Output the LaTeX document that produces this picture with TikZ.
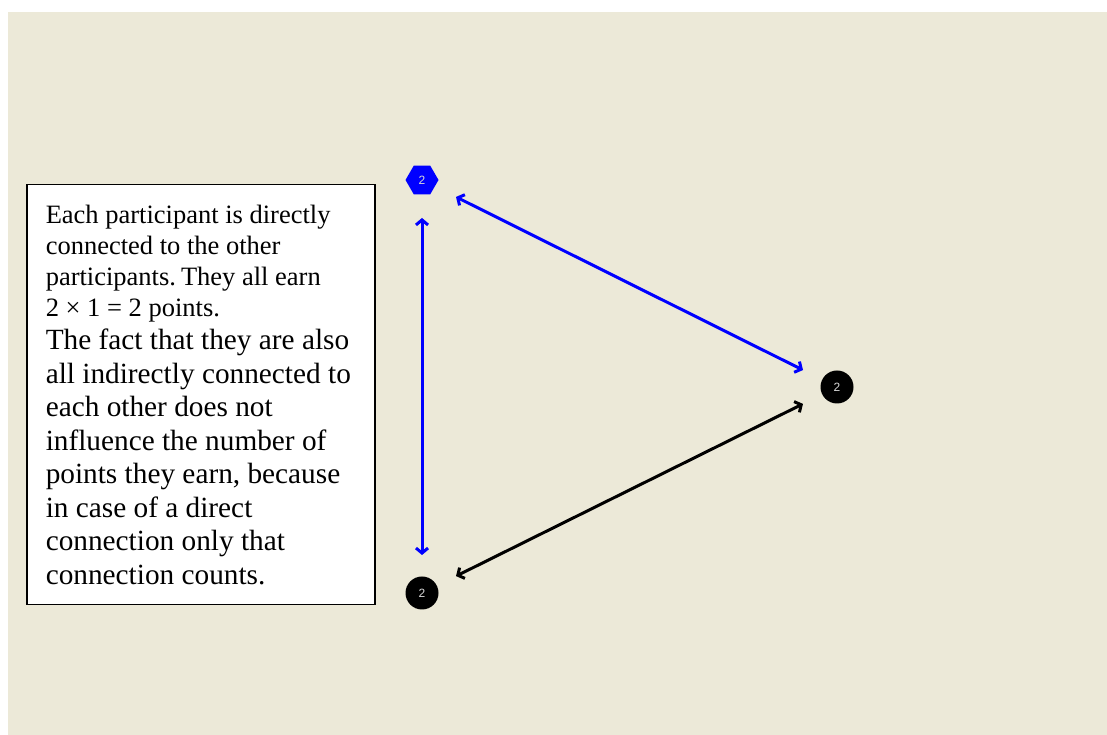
\documentclass[tikz,border=0pt]{standalone}
\usepackage{fontspec}
\setmainfont{Liberation Serif}
\setsansfont{Liberation Sans}
\usetikzlibrary{positioning,shapes.geometric,arrows.meta}
\definecolor{panel}{HTML}{ECE9D8}
\newcommand\notesize[2]{\fontsize{#1}{#2}\selectfont\spaceskip=.25em plus .1em\relax}

\begin{document}
\begin{tikzpicture}[x=1pt,y=1pt,node distance=207pt and 415pt,on grid,
   player/.style={circle,fill=black,text=white!85!black,minimum size=33pt,inner sep=0pt,
      font=\sffamily\fontsize{12}{12}\selectfont},
   self/.style={player,regular polygon,regular polygon sides=6,fill=blue,minimum size=33pt},
   link/.style={line width=3pt,{Straight Barb[length=5pt,width=12pt]}-{Straight Barb[length=5pt,width=12pt]},
      shorten >=38pt,shorten <=38pt}]
   \useasboundingbox[fill=white] (0,0) rectangle (1107,735);
   \fill[panel] (8,0) rectangle (1107,723);

   \node[self] (p_a) at (422,555) {2};
   \node[player] (p_b) [below right=of p_a] {2};
   \node[player] (p_c) [below=413pt of p_a] {2};

   \path[link]
   (p_a.center) edge[blue] (p_c.center)
                edge[blue] (p_b.center)
   (p_b.center) edge (p_c.center);

   % explanation box
   \node[draw,line width=1.5pt,fill=white,anchor=north west,text width=310pt,
      inner xsep=19pt,minimum height=420pt,align=left] (note) at (26,551)
   {{\notesize{26.5}{31}Each participant is directly\\
     connected to the other\\
     participants. They all earn\\
     2 × 1 = 2 points.\par}
    {\notesize{29.3}{33.5}The fact that they are also\\
     all indirectly connected to\\
     each other does not\\
     influence the number of\\
     points they earn, because\\
     in case of a direct\\
     connection only that\\
     connection counts.\par}};
\end{tikzpicture}
\end{document}
